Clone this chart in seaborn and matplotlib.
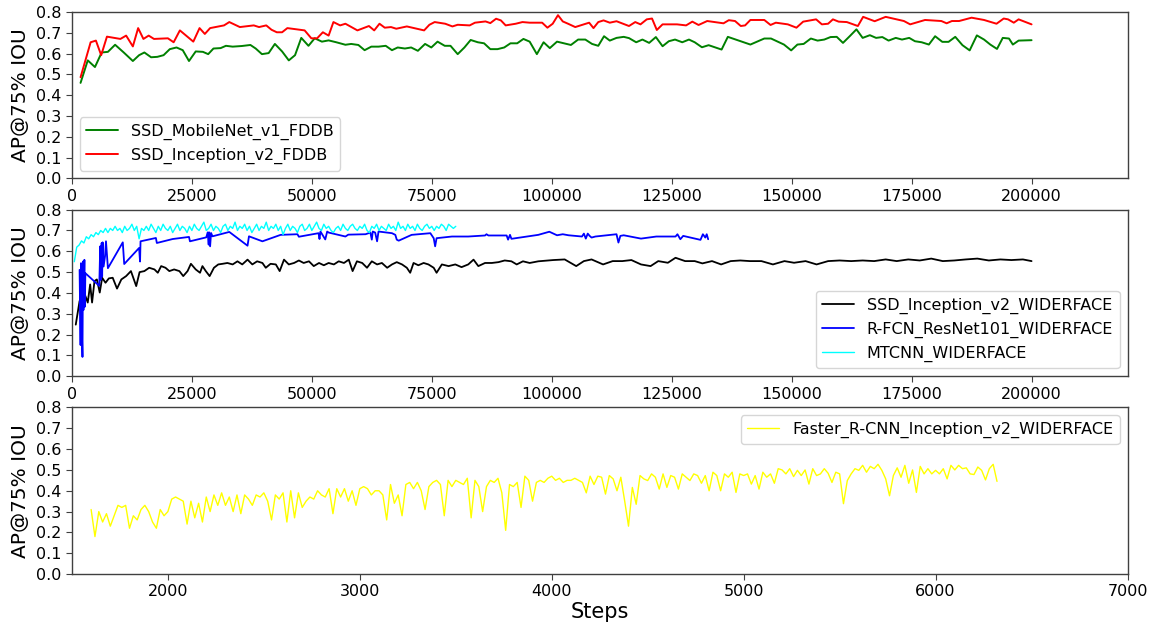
import numpy as np
import pandas as pd
import seaborn as sns
import matplotlib
matplotlib.use('Agg')
import matplotlib.pyplot as plt

# ---- FDDB (top panel)
mobilenet_steps = [1800, 3300, 4800, 6200, 7500, 9000, 10800, 12700, 14000, 15100,
                   16500, 17800, 19100, 20400, 21800, 23100, 24400, 25800, 27300, 28400,
                   29500, 31000, 32100, 33500, 35400, 37200, 38300, 39600, 41000, 42300,
                   43800, 45200, 46500, 47800, 49300, 50600, 52100, 53500, 55100, 57000,
                   58200, 59700, 61000, 62400, 63900, 65400, 66700, 67900, 69400, 70700,
                   72100, 73600, 74900, 76200, 77700, 78900, 80400, 81800, 83100, 84600,
                   85900, 87200, 88700, 90100, 91400, 92800, 94100, 95400, 96900, 98300,
                   99600, 101100, 102600, 104000, 105500, 107000, 108400, 109700, 110900, 112100,
                   113500, 115000, 116100, 117600, 118900, 120300, 121700, 123100, 124400, 125700,
                   127200, 128600, 129800, 131300, 132700, 135400, 136700, 141400, 144300, 145700,
                   148400, 149900, 151200, 152500, 154000, 155400, 156800, 158100, 159400, 160700,
                   162100, 163500, 164800, 166300, 167600, 168900, 170200, 171700, 173000, 174500,
                   175700, 177100, 178600, 179900, 181400, 182700, 184100, 185600, 187100, 188600,
                   190100, 191400, 192800, 194000, 195300, 196100, 197300, 200000]
mobilenet_ap = [0.459, 0.567, 0.535, 0.605, 0.608, 0.642, 0.605, 0.564, 0.592, 0.605,
                0.582, 0.584, 0.592, 0.621, 0.629, 0.616, 0.564, 0.610, 0.608, 0.597,
                0.624, 0.626, 0.637, 0.633, 0.636, 0.641, 0.624, 0.597, 0.602, 0.646,
                0.610, 0.567, 0.592, 0.675, 0.637, 0.673, 0.657, 0.663, 0.654, 0.642,
                0.646, 0.641, 0.616, 0.633, 0.633, 0.637, 0.616, 0.629, 0.624, 0.629,
                0.613, 0.646, 0.629, 0.657, 0.637, 0.637, 0.597, 0.629, 0.665, 0.654,
                0.649, 0.621, 0.621, 0.629, 0.649, 0.649, 0.670, 0.657, 0.597, 0.654,
                0.626, 0.657, 0.649, 0.641, 0.667, 0.667, 0.646, 0.637, 0.683, 0.662,
                0.675, 0.680, 0.674, 0.654, 0.667, 0.651, 0.679, 0.635, 0.659, 0.667,
                0.654, 0.667, 0.654, 0.630, 0.640, 0.619, 0.680, 0.643, 0.672, 0.672,
                0.643, 0.615, 0.643, 0.646, 0.672, 0.662, 0.667, 0.679, 0.680, 0.651,
                0.683, 0.716, 0.675, 0.688, 0.675, 0.679, 0.662, 0.675, 0.667, 0.675,
                0.659, 0.654, 0.643, 0.683, 0.656, 0.656, 0.680, 0.640, 0.615, 0.687,
                0.667, 0.643, 0.622, 0.675, 0.672, 0.643, 0.662, 0.664]

inception_steps = [1800, 3900, 5000, 6100, 7300, 10100, 11300, 12700, 13800, 14900,
                   16000, 17100, 20000, 21200, 22500, 25300, 26600, 27700, 28800, 31700,
                   32800, 35000, 37900, 39000, 40500, 41600, 42700, 43800, 44900, 48500,
                   49900, 51100, 52300, 53500, 54500, 55900, 57000, 59500, 61900, 63000,
                   64100, 65200, 66500, 67600, 69800, 73400, 74500, 75600, 77800, 79300,
                   80400, 82900, 84000, 86200, 87200, 88400, 89400, 90400, 92500, 93900,
                   95400, 98000, 99100, 100200, 101300, 102300, 103400, 104900, 106000, 107100,
                   107800, 108700, 109700, 110800, 112100,
                   113500, 116100, 117400, 118500, 119800, 120900, 121900, 123100, 126100, 128000,
                   129300, 130600, 132400, 135800, 136900, 138200, 139400, 140300, 141400, 144300,
                   145600, 146700, 149200, 151000, 152400, 155100, 156300, 157600, 158600, 159800,
                   161500, 163800, 164900, 167300, 169600, 173400, 174700, 177800, 181200, 182300,
                   183400, 184900, 187500, 190100, 192700, 194200, 195100, 196300, 197300, 200000]
inception_ap = [0.486, 0.654, 0.662, 0.592, 0.681, 0.670, 0.686, 0.634, 0.722, 0.670,
                0.686, 0.670, 0.673, 0.654, 0.711, 0.657, 0.722, 0.694, 0.722, 0.735,
                0.751, 0.727, 0.735, 0.727, 0.735, 0.714, 0.702, 0.702, 0.722, 0.711,
                0.673, 0.673, 0.702, 0.686, 0.751, 0.735, 0.743, 0.711, 0.732, 0.711,
                0.743, 0.724, 0.727, 0.719, 0.730, 0.711, 0.738, 0.751, 0.743, 0.730,
                0.738, 0.735, 0.748, 0.754, 0.746, 0.767, 0.759, 0.735, 0.743, 0.751,
                0.748, 0.748, 0.724, 0.743, 0.784, 0.754, 0.743, 0.727, 0.735, 0.743,
                0.748, 0.722, 0.751, 0.759, 0.748,
                0.755, 0.732, 0.751, 0.740, 0.764, 0.768, 0.713, 0.740, 0.740, 0.735,
                0.753, 0.737, 0.756, 0.745, 0.760, 0.756, 0.732, 0.735, 0.761, 0.761,
                0.737, 0.748, 0.740, 0.724, 0.753, 0.764, 0.740, 0.743, 0.764, 0.753,
                0.751, 0.732, 0.776, 0.755, 0.776, 0.756, 0.740, 0.761, 0.756, 0.745,
                0.756, 0.756, 0.772, 0.761, 0.743, 0.768, 0.764, 0.748, 0.764, 0.740]

# ---- WIDERFACE (middle panel)
ssd_wf_steps = [800, 1600, 2200, 2800, 3300, 3800, 4200, 4700, 5200, 5800,
                6300, 7000, 7700, 8500, 9400, 10300, 11300, 12300, 13400, 14100,
                15100, 16100, 17200, 17900, 18600, 19500, 20300, 21300, 22400, 23200,
                24100, 24800, 25800, 26700, 27200, 27900, 28700, 29600, 30500, 31400,
                32400, 33500, 34500, 35500, 36600, 37600, 38600, 39700, 40400, 41400,
                42500, 43300, 44200, 45200, 46300, 47300, 48300, 49400, 50400, 51500,
                52500, 53500, 54600, 55600, 56700, 57700, 58500, 59400, 60500, 61500,
                62500, 63600, 64600, 65700, 66700, 67700, 68800, 69800, 70500, 71200,
                72200, 73300, 74300, 75400, 76000, 77100, 78500, 79900, 81200, 82600,
                83700, 84700, 86100, 87500, 88900, 90200, 91600, 92700, 94000, 95400,
                97200, 100300, 102700, 105100, 106700, 108300, 110700, 112700, 114700, 116600,
                118600, 120600, 122200, 124200, 125800, 127800, 129800, 131400, 133400, 135300,
                137300, 139300, 141300, 143700, 146100, 148500, 150500, 152900, 155200, 157600,
                160000, 162400, 164800, 167200, 169600, 171900, 174300, 176700, 179100, 181500,
                183900, 186300, 188700, 191100, 193500, 195800, 198200, 200000]
ssd_wf_ap = [0.248, 0.362, 0.330, 0.386, 0.354, 0.441, 0.354, 0.457, 0.465, 0.402,
             0.473, 0.449, 0.470, 0.473, 0.421, 0.465, 0.481, 0.505, 0.433, 0.500,
             0.505, 0.521, 0.513, 0.497, 0.529, 0.521, 0.505, 0.513, 0.505, 0.481,
             0.505, 0.540, 0.513, 0.497, 0.529, 0.505, 0.481, 0.521, 0.537, 0.540,
             0.544, 0.537, 0.552, 0.537, 0.560, 0.537, 0.552, 0.544, 0.521, 0.540,
             0.537, 0.505, 0.560, 0.537, 0.544, 0.556, 0.544, 0.552, 0.529, 0.544,
             0.533, 0.544, 0.537, 0.552, 0.544, 0.560, 0.505, 0.552, 0.544, 0.521,
             0.552, 0.537, 0.544, 0.521, 0.537, 0.548, 0.537, 0.521, 0.497, 0.544,
             0.533, 0.544, 0.537, 0.521, 0.497, 0.537, 0.529, 0.537, 0.524, 0.537,
             0.560, 0.529, 0.544, 0.544, 0.548, 0.556, 0.552, 0.537, 0.552, 0.544,
             0.552, 0.558, 0.561, 0.529, 0.553, 0.561, 0.537, 0.553, 0.553, 0.558,
             0.537, 0.529, 0.553, 0.545, 0.569, 0.553, 0.553, 0.542, 0.553, 0.537,
             0.553, 0.556, 0.553, 0.553, 0.537, 0.553, 0.545, 0.553, 0.537, 0.553,
             0.556, 0.553, 0.556, 0.553, 0.561, 0.553, 0.561, 0.556, 0.565, 0.553,
             0.556, 0.561, 0.565, 0.556, 0.561, 0.558, 0.561, 0.553]

rfcn_steps = [1600, 1800, 1900, 2100, 2200, 2300, 2400, 2600, 2700, 2800,
              5700, 5900, 6000, 6200, 6300, 6400, 6600, 6900, 7100, 7500,
              10600, 10900, 14000, 14200, 14300, 17500, 17700, 21000, 24400, 24600,
              28000, 28300, 28500, 28600, 28800, 29000, 29300, 32800, 36600, 36900,
              39700, 43500, 47000, 47300, 51400, 51600, 51800, 52800, 53200, 53500,
              57000, 57600, 61200, 62200, 62500, 62700, 63200, 63600, 63900, 66700,
              67400, 67700, 68100, 70800, 74700, 75400, 75700, 76000, 79200, 82600,
              86100, 86400, 86800, 90600, 90900, 91300, 91600, 97200, 99500, 101100,
              102300, 103500, 106300, 106700, 107100, 107500, 107900, 108300, 109100, 111500,
              113500, 113900, 114300, 115000, 118600, 121800, 125800, 126200, 126800, 127400,
              131000, 131500, 132000, 132300, 132600]
rfcn_ap = [0.511, 0.150, 0.543, 0.190, 0.093, 0.551, 0.318, 0.559, 0.334, 0.495,
           0.434, 0.624, 0.463, 0.640, 0.479, 0.643, 0.527, 0.576, 0.648, 0.519,
           0.643, 0.539, 0.616, 0.551, 0.648, 0.664, 0.640, 0.659, 0.669, 0.648,
           0.667, 0.691, 0.632, 0.691, 0.624, 0.688, 0.672, 0.693, 0.627, 0.672,
           0.648, 0.679, 0.682, 0.670, 0.687, 0.659, 0.695, 0.657, 0.695, 0.690,
           0.671, 0.680, 0.682, 0.690, 0.656, 0.695, 0.690, 0.648, 0.695, 0.687,
           0.679, 0.656, 0.651, 0.679, 0.687, 0.663, 0.624, 0.663, 0.671, 0.671,
           0.676, 0.682, 0.676, 0.676, 0.656, 0.679, 0.660, 0.679, 0.694, 0.677,
           0.682, 0.677, 0.671, 0.685, 0.661, 0.685, 0.674, 0.666, 0.671, 0.677,
           0.682, 0.642, 0.674, 0.677, 0.661, 0.671, 0.671, 0.682, 0.658, 0.674,
           0.655, 0.682, 0.666, 0.682, 0.658]

# MTCNN evaluated every 500 steps up to 80000
mtcnn_steps = list(range(500, 80001, 500))
mtcnn_ap = [0.55, 0.62, 0.63, 0.65, 0.64, 0.67, 0.66, 0.68, 0.67, 0.69,
            0.68, 0.70, 0.69, 0.71, 0.69, 0.71, 0.70, 0.72, 0.70, 0.71,
            0.69, 0.72, 0.70, 0.71, 0.73, 0.70, 0.72, 0.66, 0.71, 0.70,
            0.72, 0.70, 0.73, 0.71, 0.69, 0.72, 0.70, 0.73, 0.71, 0.70,
            0.72, 0.69, 0.71, 0.73, 0.70, 0.72, 0.71, 0.69, 0.72, 0.70,
            0.73, 0.71, 0.70, 0.72, 0.74, 0.70, 0.71, 0.73, 0.70, 0.72,
            0.71, 0.69, 0.72, 0.73, 0.70, 0.72, 0.71, 0.74, 0.70, 0.72,
            0.71, 0.73, 0.70, 0.72, 0.69, 0.71, 0.73, 0.70, 0.72, 0.71,
            0.74, 0.70, 0.72, 0.71, 0.73, 0.70, 0.72, 0.68, 0.71, 0.73,
            0.70, 0.72, 0.71, 0.69, 0.72, 0.73, 0.70, 0.71, 0.73, 0.70,
            0.72, 0.74, 0.71, 0.70, 0.73, 0.71, 0.72, 0.70, 0.69, 0.71,
            0.72, 0.70, 0.73, 0.71, 0.70, 0.72, 0.73, 0.71, 0.70, 0.72,
            0.71, 0.73, 0.70, 0.69, 0.72, 0.71, 0.73, 0.70, 0.72, 0.71,
            0.70, 0.73, 0.71, 0.72, 0.70, 0.74, 0.71, 0.72, 0.70, 0.73,
            0.71, 0.72, 0.70, 0.73, 0.71, 0.70, 0.72, 0.73, 0.71, 0.72,
            0.70, 0.72, 0.71, 0.73, 0.72, 0.70, 0.73, 0.72, 0.71, 0.72]

# ---- Faster R-CNN (bottom panel), evaluated every 20 steps
frcnn_steps = list(range(1600, 6321, 20))
frcnn_ap = [0.31, 0.18, 0.30, 0.25, 0.29,
            0.23, 0.28, 0.33, 0.32, 0.33,
            0.22, 0.28, 0.26, 0.31, 0.33,
            0.30, 0.25, 0.22, 0.31, 0.28,
            0.30, 0.36, 0.37, 0.36, 0.35,
            0.24, 0.35, 0.27, 0.34, 0.25,
            0.37, 0.30, 0.38, 0.33, 0.39,
            0.33, 0.37, 0.30, 0.38, 0.29,
            0.38, 0.36, 0.33, 0.38, 0.37,
            0.39, 0.35, 0.26, 0.38, 0.36,
            0.39, 0.25, 0.40, 0.27, 0.39,
            0.32, 0.35, 0.37, 0.36, 0.40,
            0.38, 0.37, 0.41, 0.29, 0.41,
            0.37, 0.41, 0.35, 0.40, 0.33,
            0.41, 0.42, 0.41, 0.38, 0.40,
            0.40, 0.38, 0.26, 0.43, 0.34,
            0.38, 0.28, 0.43, 0.44, 0.41,
            0.44, 0.40, 0.31, 0.42, 0.44,
            0.45, 0.43, 0.28, 0.45, 0.42,
            0.45, 0.44, 0.43, 0.46, 0.27,
            0.45, 0.42, 0.30, 0.42, 0.45,
            0.44, 0.46, 0.39, 0.21, 0.43,
            0.42, 0.44, 0.32, 0.47, 0.45,
            0.35, 0.44, 0.45, 0.44, 0.46,
            0.47, 0.45, 0.46, 0.44, 0.45,
            0.45, 0.46, 0.45, 0.44, 0.39,
            0.47, 0.43, 0.47,
            0.465, 0.384, 0.473, 0.457, 0.400, 0.465, 0.351, 0.230, 0.416, 0.335,
            0.473, 0.457, 0.449, 0.481, 0.465, 0.408, 0.481, 0.416, 0.473, 0.465,
            0.408, 0.481, 0.465, 0.449, 0.481, 0.473, 0.436, 0.473, 0.400, 0.489,
            0.473, 0.400, 0.481, 0.465, 0.489, 0.392, 0.481, 0.473, 0.481, 0.432,
            0.473, 0.408, 0.489, 0.465, 0.481, 0.436, 0.506, 0.500, 0.481, 0.506,
            0.468, 0.498, 0.473, 0.500, 0.432, 0.506, 0.473, 0.481, 0.506, 0.484,
            0.440, 0.489, 0.481, 0.338, 0.449, 0.481, 0.506, 0.498, 0.522, 0.489,
            0.517, 0.506, 0.527, 0.498, 0.457, 0.376, 0.473, 0.510, 0.465, 0.522,
            0.436, 0.500, 0.392, 0.517, 0.481, 0.506, 0.481, 0.498, 0.481, 0.506,
            0.457, 0.522, 0.500, 0.522, 0.506, 0.510, 0.481, 0.478, 0.514, 0.498,
            0.452, 0.506, 0.527, 0.445]

sns.set_style("ticks")
plt.rcParams['font.family'] = ['DejaVu Sans']
plt.rcParams['text.color'] = 'black'
plt.rcParams['axes.labelcolor'] = 'black'
plt.rcParams['xtick.color'] = 'black'
plt.rcParams['ytick.color'] = 'black'

fig, axes = plt.subplots(3, 1, figsize=(11.6, 6.24), dpi=100)
fig.subplots_adjust(left=0.062, right=0.972, top=0.981, bottom=0.080, hspace=0.187)

def draw(ax, steps, ap, color, label, lw):
    df = pd.DataFrame({"step": steps, "ap": ap})
    sns.lineplot(data=df, x="step", y="ap", color=color, label=label,
                 linewidth=lw, estimator=None, sort=False, ax=ax)

draw(axes[0], mobilenet_steps, mobilenet_ap, "green", "SSD_MobileNet_v1_FDDB", 1.4)
draw(axes[0], inception_steps, inception_ap, "red", "SSD_Inception_v2_FDDB", 1.4)

draw(axes[1], ssd_wf_steps, ssd_wf_ap, "black", "SSD_Inception_v2_WIDERFACE", 1.3)
draw(axes[1], rfcn_steps, rfcn_ap, "blue", "R-FCN_ResNet101_WIDERFACE", 1.3)
draw(axes[1], mtcnn_steps, mtcnn_ap, "cyan", "MTCNN_WIDERFACE", 1.0)

draw(axes[2], frcnn_steps, frcnn_ap, "yellow", "Faster_R-CNN_Inception_v2_WIDERFACE", 1.0)

legend_locs = ["lower left", "lower right", "upper right"]
for ax, loc in zip(axes, legend_locs):
    ax.set_ylim(0, 0.8)
    ax.set_yticks(np.arange(0, 0.81, 0.1))
    ax.set_yticklabels(["%.1f" % v for v in np.arange(0, 0.81, 0.1)])
    ax.set_ylabel("AP@75% IOU", fontsize=14.5)
    ax.set_xlabel("")
    ax.tick_params(labelsize=11.5, length=4, color=".25", labelcolor="black")
    for sp in ax.spines.values():
        sp.set_color(".25")
        sp.set_linewidth(1.0)
    ax.legend(loc=loc, fontsize=11.5, frameon=True, fancybox=True,
              edgecolor="0.8", framealpha=0.8)

axes[0].set_xlim(0, 220000)
axes[1].set_xlim(0, 220000)
axes[0].set_xticks([0, 25000, 50000, 75000, 100000, 125000, 150000, 175000, 200000])
axes[1].set_xticks([0, 25000, 50000, 75000, 100000, 125000, 150000, 175000, 200000])
axes[2].set_xlim(1500, 7000)
axes[2].set_xticks([2000, 3000, 4000, 5000, 6000, 7000])
axes[2].set_xlabel("Steps", fontsize=15, labelpad=2)

fig.savefig("out.png", dpi=100)
